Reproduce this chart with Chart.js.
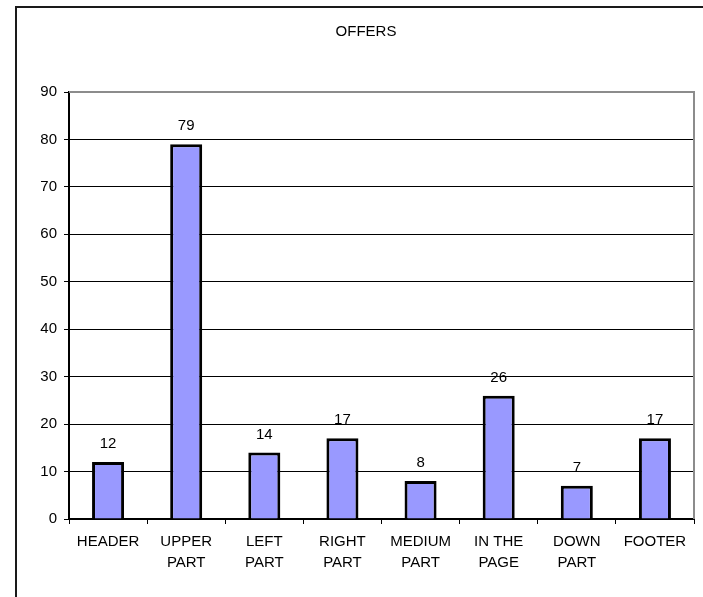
<!DOCTYPE html>
<html>
<head>
<meta charset="utf-8">
<script src="https://cdn.jsdelivr.net/npm/chart.js@4/dist/chart.umd.min.js"></script>
<style>
  html, body { margin: 0; padding: 0; background: #ffffff; }
  #wrap { position: relative; width: 703px; height: 597px; overflow: hidden; }
  #frame { position: absolute; left: 15px; top: 6px; width: 720px; height: 620px;
           border-left: 2px solid #1a1a1a; border-top: 2px solid #1a1a1a; box-sizing: border-box; }
  canvas { position: absolute; left: 0; top: 0; }
</style>
</head>
<body>
<div id="wrap">
  <div id="frame"></div>
  <canvas id="chart" width="703" height="597"></canvas>
</div>
<script>
// Placement of offers on the page
const categories = ['HEADER', ['UPPER', 'PART'], ['LEFT', 'PART'], ['RIGHT', 'PART'],
                    ['MEDIUM', 'PART'], ['IN THE', 'PAGE'], ['DOWN', 'PART'], 'FOOTER'];
const offers = [12, 79, 14, 17, 8, 26, 7, 17];
const yTicks = [0, 10, 20, 30, 40, 50, 60, 70, 80, 90];

const FONT = "'Liberation Sans', Arial, sans-serif";
const FONT_SIZE = 15;

// Value labels above each bar
const valueLabels = {
  id: 'valueLabels',
  afterDatasetsDraw(chart) {
    const ctx = chart.ctx;
    const meta = chart.getDatasetMeta(0);
    ctx.save();
    ctx.font = FONT_SIZE + 'px ' + FONT;
    ctx.fillStyle = '#000000';
    ctx.textAlign = 'center';
    ctx.textBaseline = 'alphabetic';
    meta.data.forEach((bar, i) => {
      ctx.fillText(String(chart.data.datasets[0].data[i]), bar.x, bar.y - 14);
    });
    ctx.restore();
  }
};

// Grey plot-area border on the top and right edges
const plotBorder = {
  id: 'plotBorder',
  afterDraw(chart) {
    const a = chart.chartArea;
    const ctx = chart.ctx;
    ctx.save();
    ctx.strokeStyle = '#8c8c8c';
    ctx.lineWidth = 2;
    ctx.beginPath();
    ctx.moveTo(a.left, a.top);
    ctx.lineTo(a.right, a.top);
    ctx.lineTo(a.right, a.bottom);
    ctx.stroke();
    ctx.restore();
  }
};

new Chart(document.getElementById('chart'), {
  type: 'bar',
  data: {
    labels: categories,
    datasets: [{
      data: offers,
      backgroundColor: '#9999ff',
      borderColor: '#000000',
      borderWidth: 3,
      borderSkipped: 'start',
      categoryPercentage: 1,
      barPercentage: 0.41
    }]
  },
  options: {
    responsive: false,
    animation: false,
    layout: { padding: { left: 38, right: 9, top: 0, bottom: 0 } },
    plugins: {
      legend: { display: false },
      tooltip: { enabled: false },
      title: {
        display: true,
        text: 'OFFERS',
        color: '#000000',
        font: { family: FONT, size: FONT_SIZE, weight: 'normal', lineHeight: 1.2 },
        padding: { top: 23, bottom: 51 }
      }
    },
    scales: {
      x: {
        grid: {
          offset: true,
          drawOnChartArea: false,
          drawTicks: true,
          tickLength: 5,
          tickColor: '#000000',
          lineWidth: 1
        },
        border: { display: true, color: '#000000', width: 2 },
        ticks: {
          color: '#000000',
          font: { family: FONT, size: FONT_SIZE, lineHeight: 1.4 },
          padding: 7,
          maxRotation: 0,
          autoSkip: false
        },
        afterFit(scale) { scale.height = 78; }
      },
      y: {
        min: yTicks[0],
        max: yTicks[yTicks.length - 1],
        afterBuildTicks(scale) { scale.ticks = yTicks.map(v => ({ value: v })); },
        grid: {
          color: '#000000',
          lineWidth: 1,
          drawTicks: true,
          tickLength: 5,
          tickColor: '#000000'
        },
        border: { display: true, color: '#000000', width: 2 },
        ticks: {
          color: '#000000',
          font: { family: FONT, size: FONT_SIZE },
          padding: 7
        },
        afterFit(scale) { scale.width = 31; }
      }
    }
  },
  plugins: [valueLabels, plotBorder]
});
</script>
</body>
</html>
